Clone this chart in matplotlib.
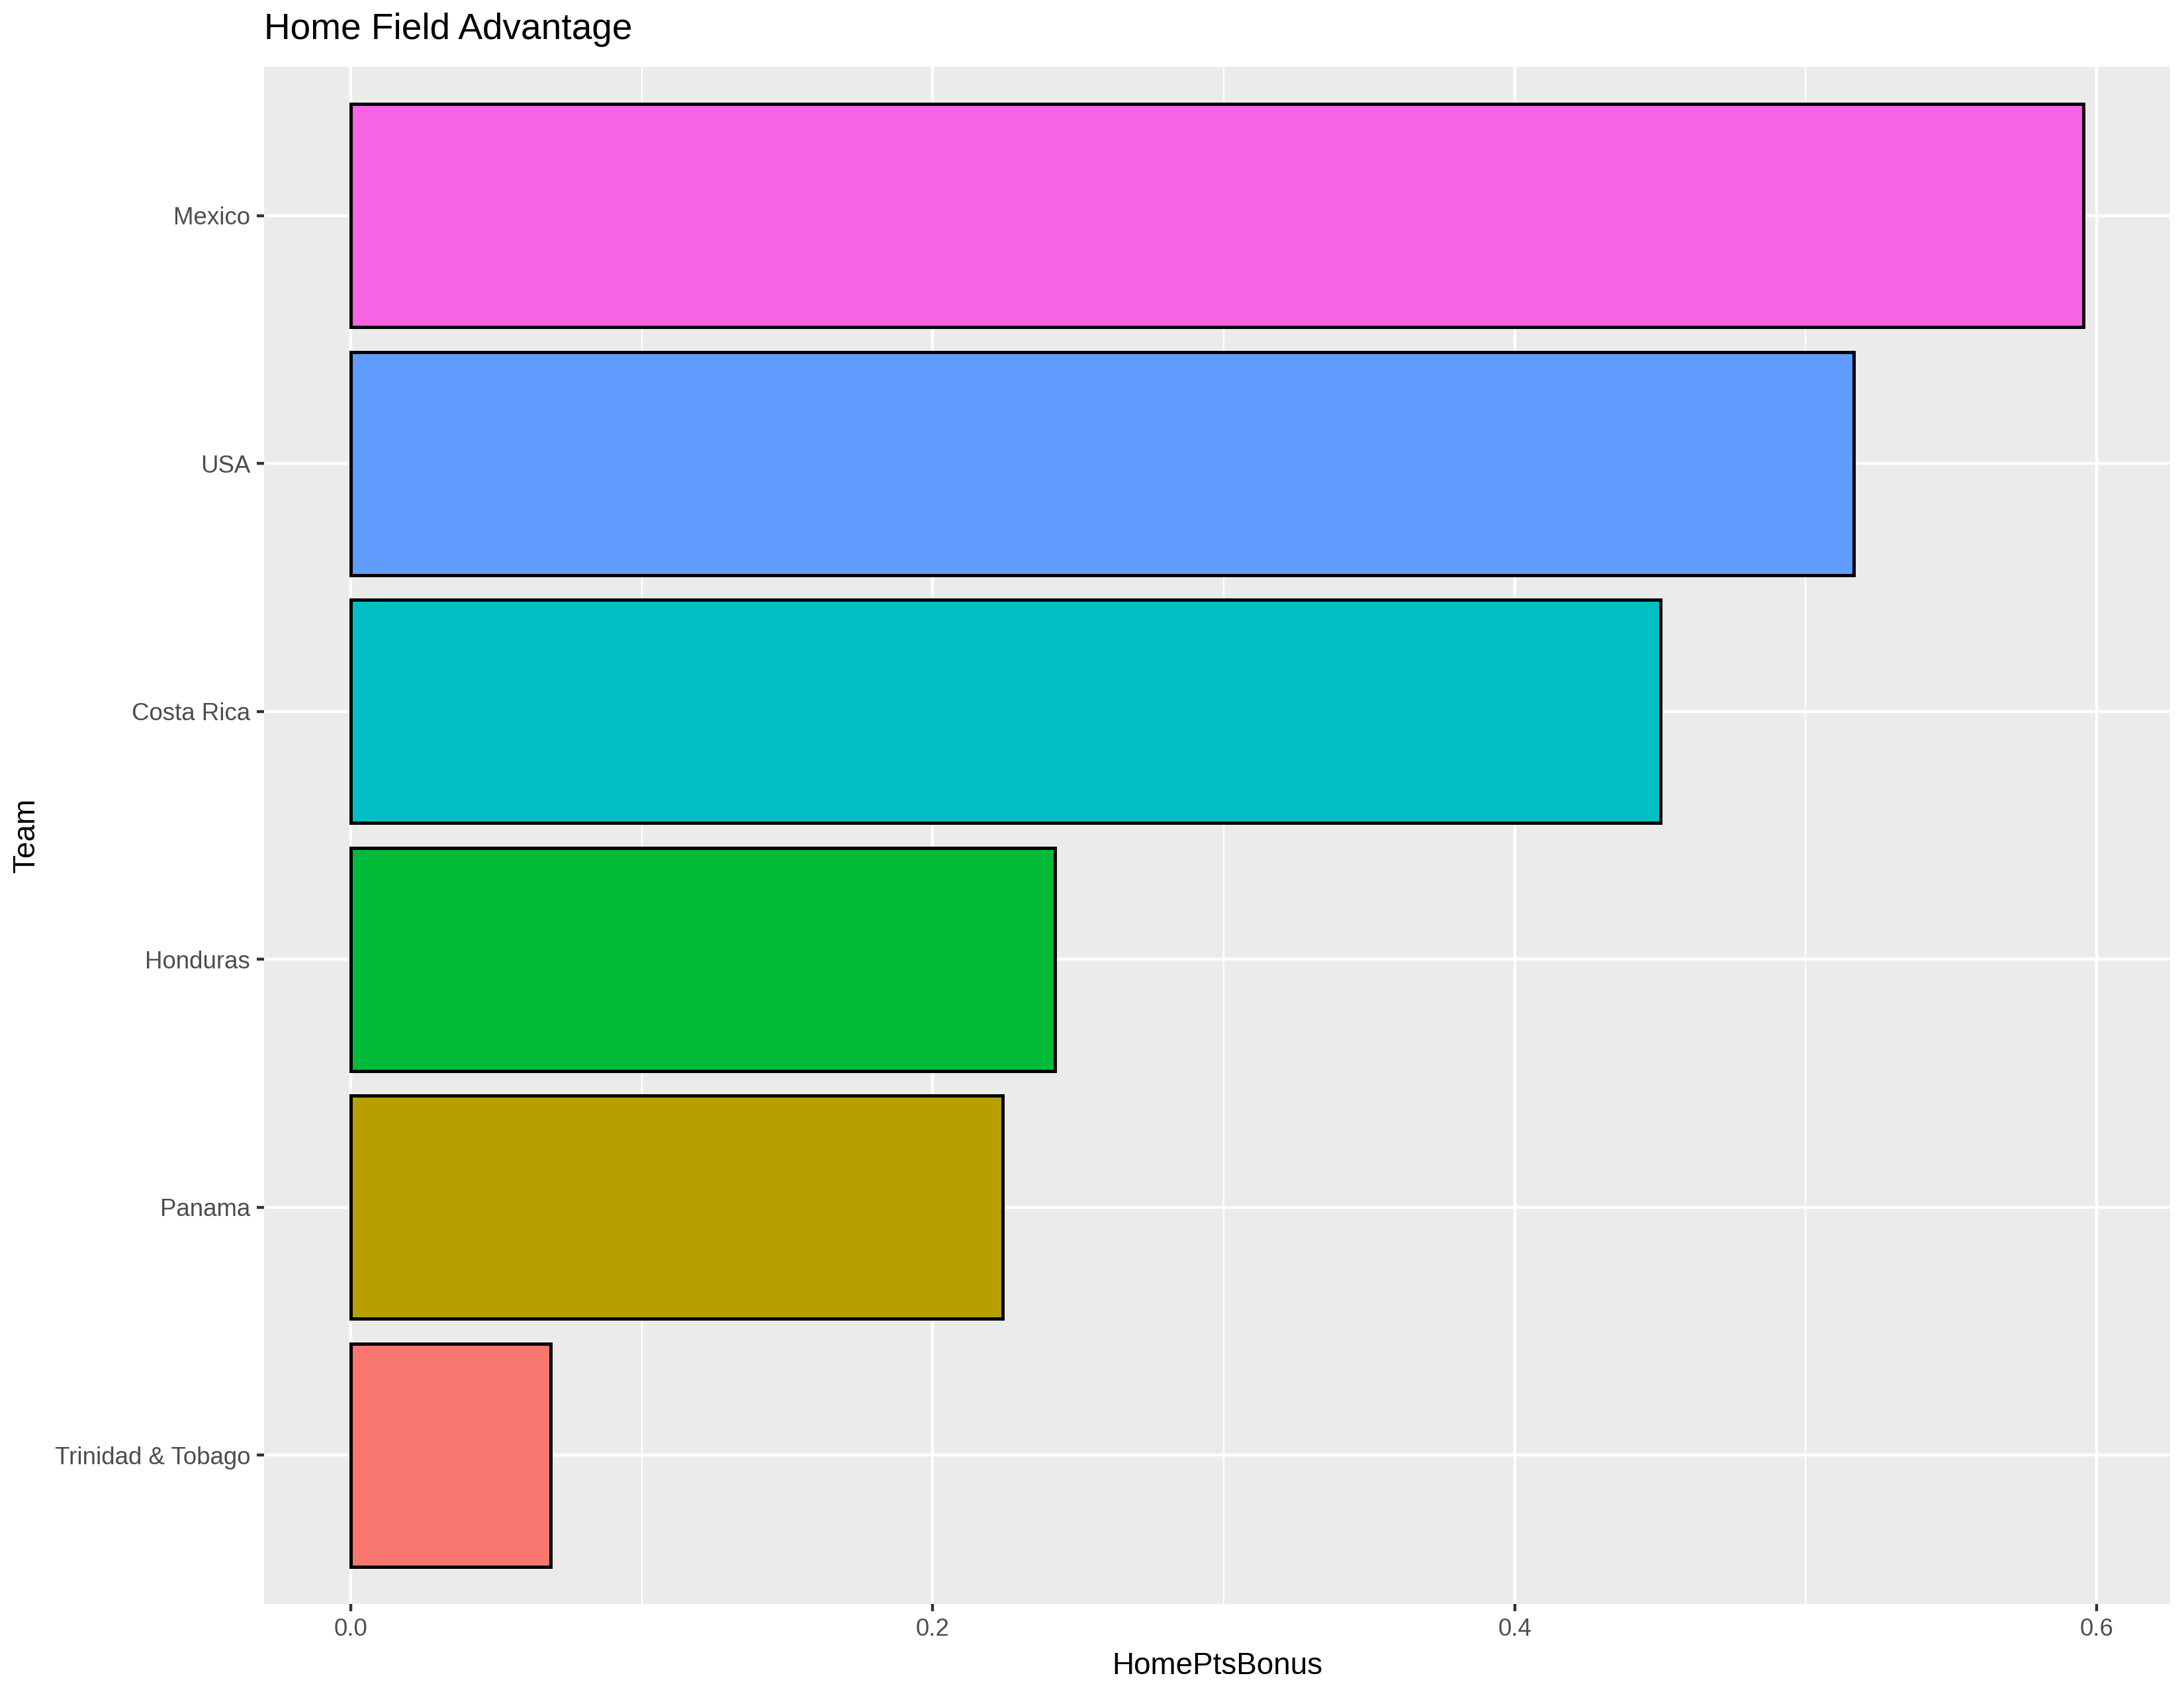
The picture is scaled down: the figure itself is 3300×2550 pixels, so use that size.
import numpy as np
import matplotlib
matplotlib.use("Agg")
import matplotlib.pyplot as plt

plt.rcParams['font.family'] = ['Liberation Sans', 'DejaVu Sans']

# data, bottom to top
teams = ['Trinidad & Tobago', 'Panama', 'Honduras', 'Costa Rica', 'USA', 'Mexico']
bonus = [0.0687, 0.2240, 0.2419, 0.4500, 0.5166, 0.5954]
colors = ['#F8766D', '#B79F00', '#00BA38', '#00BFC4', '#619CFF', '#F564E3']

fig = plt.figure(figsize=(11, 8.5), dpi=300)
ax = fig.add_axes([0.1209, 0.0498, 0.9936 - 0.1209, (2550 - 101) / 2550 - 0.0498])

ax.set_facecolor('#EBEBEB')
for s in ax.spines.values():
    s.set_visible(False)

ypos = np.arange(1, len(teams) + 1)
ax.barh(ypos, bonus, height=0.9, color=colors, edgecolor='black', linewidth=1.2, zorder=3)

xmax = max(bonus)
ax.set_xlim(-0.05 * xmax, 1.05 * xmax)
ax.set_ylim(0.4, len(teams) + 0.6)

ax.set_xticks([0.0, 0.2, 0.4, 0.6])
ax.set_xticklabels(['0.0', '0.2', '0.4', '0.6'])
ax.set_xticks([0.1, 0.3, 0.5], minor=True)
ax.set_yticks(ypos)
ax.set_yticklabels(teams)

ax.grid(which='major', color='white', linewidth=1.07, zorder=0)
ax.grid(which='minor', axis='x', color='white', linewidth=0.53, zorder=0)
ax.set_axisbelow(True)

ax.tick_params(axis='both', which='major', length=2.75, width=1.07, color='#333333',
               labelsize=8.8, labelcolor='#4D4D4D', pad=2.2)
ax.tick_params(axis='both', which='minor', length=0)

ax.set_xlabel('HomePtsBonus', fontsize=11, color='black', labelpad=4)
ax.set_ylabel('Team', fontsize=11, color='black', labelpad=5)
ax.set_title('Home Field Advantage', fontsize=13.2, loc='left', pad=10)

fig.savefig('out.png', dpi=300)
